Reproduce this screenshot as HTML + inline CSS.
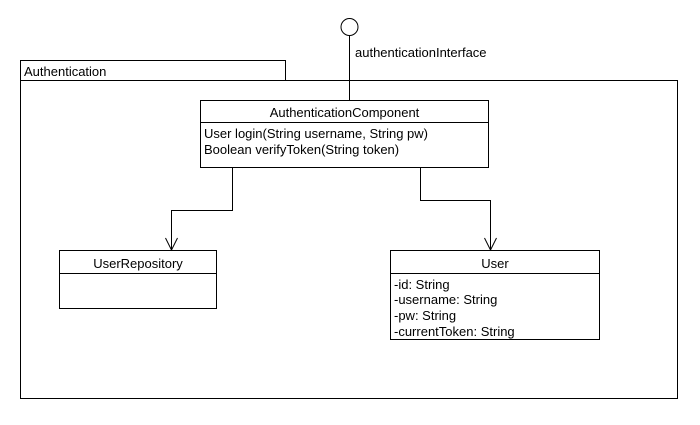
<!DOCTYPE html>
<html><head><style>body{margin:0;background:#fff}</style></head><body>
<svg width="700" height="420" xmlns="http://www.w3.org/2000/svg" font-family="Liberation Sans, Arial, sans-serif" font-size="13" fill="#000">
<rect width="700" height="420" fill="#fff"/>
<g fill="none" stroke="#000" stroke-width="1">
<circle cx="349.5" cy="27" r="8.5"/>
<line x1="349.5" y1="35.5" x2="349.5" y2="100.5"/>
<rect x="20.5" y="60.5" width="265" height="20"/>
<rect x="20.5" y="80.5" width="657" height="318"/>
<rect x="200.5" y="100.5" width="288" height="67"/>
<line x1="200.5" y1="122.5" x2="488.5" y2="122.5"/>
<polyline points="232.5,167.5 232.5,210.5 171.5,210.5 171.5,250"/>
<polyline points="165.5,238 171.5,250 177.5,238"/>
<polyline points="420.5,167.5 420.5,200.5 490.5,200.5 490.5,250"/>
<polyline points="484.5,238 490.5,250 496.5,238"/>
<rect x="59.5" y="250.5" width="157" height="58"/>
<line x1="59.5" y1="273.5" x2="216.5" y2="273.5"/>
<rect x="390.5" y="250.5" width="209" height="89"/>
<line x1="390.5" y1="273.5" x2="599.5" y2="273.5"/>
</g>
<text x="355" y="57">authenticationInterface</text>
<text x="24" y="76">Authentication</text>
<text x="344.5" y="117" text-anchor="middle">AuthenticationComponent</text>
<text x="204" y="138">User login(String username, String pw)</text>
<text x="204" y="154">Boolean verifyToken(String token)</text>
<text x="138" y="268" text-anchor="middle">UserRepository</text>
<text x="495" y="268" text-anchor="middle">User</text>
<text x="394" y="289">-id: String</text>
<text x="394" y="304">-username: String</text>
<text x="394" y="320">-pw: String</text>
<text x="394" y="336">-currentToken: String</text>
</svg>
</body></html>
